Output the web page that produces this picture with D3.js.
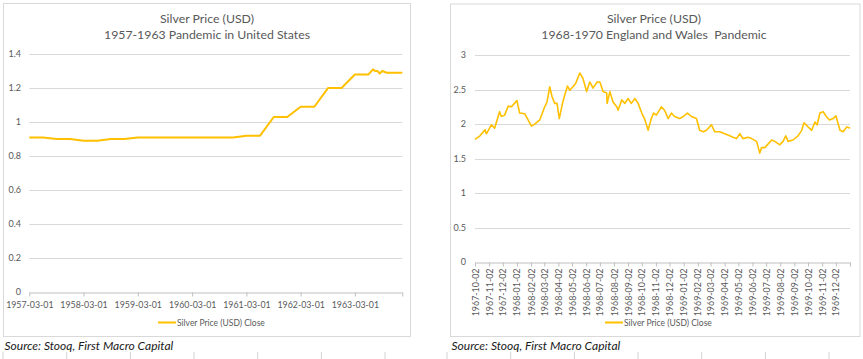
<!DOCTYPE html>
<html><head><meta charset="utf-8">
<script src="https://cdn.jsdelivr.net/npm/d3@7"></script>
<style>body{margin:0;background:#fff}svg text{white-space:pre}</style>
</head><body><svg id="c" width="863" height="359"></svg>
<script>
const seriesName = "Silver Price (USD) Close";
const sourceText = "Source: Stooq, First Macro Capital";
const leftTitle = ["Silver Price (USD)", "1957-1963 Pandemic in United States"];
const rightTitle = ["Silver Price (USD)", "1968-1970 England and Wales  Pandemic"];

const leftDates = ["1957-03-01","1957-06-01","1957-09-01","1957-12-01","1958-03-01","1958-06-01","1958-09-01","1958-12-01",
  "1959-03-01","1959-06-01","1959-09-01","1959-12-01","1960-03-01","1960-06-01","1960-09-01","1960-12-01",
  "1961-03-01","1961-06-01","1961-09-01","1961-12-01","1962-03-01","1962-06-01","1962-09-01","1962-12-01",
  "1963-03-01","1963-06-01","1963-07-01","1963-07-15","1963-08-01","1963-08-15","1963-09-01","1963-10-01","1963-11-01","1963-12-01","1964-01-14"];
const leftValues = [0.91,0.91,0.90,0.90,0.89,0.89,0.90,0.90,
  0.91,0.91,0.91,0.91,0.91,0.91,0.91,0.91,
  0.92,0.92,1.03,1.03,1.09,1.09,1.20,1.20,
  1.28,1.28,1.31,1.30,1.30,1.285,1.30,1.29,1.29,1.29,1.29];
const leftYTicks = [0,0.2,0.4,0.6,0.8,1,1.2,1.4];
const leftXTicks = ["1957-03-01","1958-03-01","1959-03-01","1960-03-01","1961-03-01","1962-03-01","1963-03-01"];
const leftXEnd = "1964-01-14";

const rightDates = ["1967-10-02","1967-10-13","1967-10-24","1967-10-27","1967-11-07","1967-11-14","1967-11-25","1967-11-29",
  "1967-12-06","1967-12-14","1967-12-21","1968-01-02","1968-01-08","1968-01-19","1968-02-03","1968-02-10","1968-02-21",
  "1968-03-03","1968-03-08","1968-03-14","1968-03-19","1968-03-25","1968-03-30","1968-04-04","1968-04-11","1968-04-16",
  "1968-04-22","1968-04-27","1968-05-04","1968-05-10","1968-05-19","1968-05-26","1968-06-03","1968-06-10","1968-06-17",
  "1968-06-26","1968-07-02","1968-07-09","1968-07-17","1968-07-18","1968-07-24","1968-07-31","1968-08-08","1968-08-11",
  "1968-08-19","1968-08-26","1968-09-02","1968-09-09","1968-09-17","1968-09-24","1968-10-02","1968-10-09","1968-10-16",
  "1968-10-20","1968-10-23","1968-10-28","1968-11-03","1968-11-14","1968-11-21","1968-11-29","1968-12-06","1968-12-13",
  "1968-12-24","1969-01-01","1969-01-10","1969-01-19","1969-01-30","1969-02-06","1969-02-14","1969-02-21","1969-03-04",
  "1969-03-11","1969-03-22","1969-04-02","1969-04-13","1969-04-20","1969-04-28","1969-05-05","1969-05-12","1969-05-23",
  "1969-05-31","1969-06-11","1969-06-18","1969-06-22","1969-06-29","1969-07-06","1969-07-14","1969-07-21","1969-08-01",
  "1969-08-08","1969-08-14","1969-08-19","1969-08-30","1969-09-10","1969-09-18","1969-09-23","1969-10-02","1969-10-10",
  "1969-10-17","1969-10-22","1969-10-28","1969-11-04","1969-11-11","1969-11-18","1969-11-26","1969-12-02","1969-12-11",
  "1969-12-18","1969-12-26","1970-01-02"];
const rightValues = [1.78,1.83,1.92,1.86,1.99,1.94,2.18,2.11,
  2.13,2.26,2.25,2.34,2.16,2.15,1.97,2.00,2.06,
  2.25,2.32,2.54,2.40,2.30,2.30,2.08,2.30,2.42,
  2.55,2.49,2.54,2.59,2.74,2.66,2.47,2.61,2.52,
  2.61,2.61,2.47,2.45,2.30,2.47,2.32,2.25,2.20,
  2.35,2.30,2.37,2.30,2.37,2.30,2.16,2.06,1.91,
  2.01,2.08,2.16,2.13,2.25,2.20,2.08,2.16,2.11,
  2.08,2.11,2.16,2.11,2.08,1.91,1.89,1.91,1.99,
  1.89,1.89,1.86,1.83,1.81,1.79,1.86,1.79,1.81,
  1.79,1.75,1.58,1.66,1.66,1.71,1.77,1.75,1.70,
  1.75,1.83,1.75,1.77,1.83,1.91,2.02,1.96,1.91,
  2.03,1.99,2.16,2.18,2.11,2.06,2.08,2.12,1.91,
  1.89,1.96,1.94];
const rightYTicks = [0,0.5,1,1.5,2,2.5,3];
const rightXTicks = ["1967-10-02","1967-11-02","1967-12-02","1968-01-02","1968-02-02","1968-03-02","1968-04-02","1968-05-02",
  "1968-06-02","1968-07-02","1968-08-02","1968-09-02","1968-10-02","1968-11-02","1968-12-02","1969-01-02","1969-02-02",
  "1969-03-02","1969-04-02","1969-05-02","1969-06-02","1969-07-02","1969-08-02","1969-09-02","1969-10-02","1969-11-02","1969-12-02"];
const rightXEnd = "1970-01-02";

const parse = d3.utcParse("%Y-%m-%d");
const svg = d3.select("#c");
const FONT = "Lato, 'Liberation Sans', sans-serif";
const GRAY = "#595959";
const LINE = "#FFC000";

function drawChart(o) {
  const g = svg.append("g");
  g.append("rect").attr("x", o.box[0]).attr("y", o.box[1]).attr("width", o.box[2]).attr("height", o.box[3])
    .attr("fill", "#fff").attr("stroke", "#d9d9d9").attr("stroke-width", 1);
  const x = d3.scaleUtc().domain([parse(o.xTicks[0]), parse(o.xEnd)]).range([o.x0, o.x1]);
  const y = d3.scaleLinear().domain([0, o.yMax]).range([o.y0, o.y1]);
  g.append("g").selectAll("line").data(o.yTicks.filter(v => v > 0)).join("line")
    .attr("x1", o.x0).attr("x2", o.x1).attr("y1", d => Math.round(y(d)) + 0.5).attr("y2", d => Math.round(y(d)) + 0.5)
    .attr("stroke", "#d9d9d9").attr("stroke-width", 1);
  g.append("g").selectAll("text").data(o.yTicks).join("text")
    .attr("x", o.yLabelX).attr("y", d => y(d) + 3).attr("text-anchor", "end")
    .attr("font-family", FONT).attr("font-size", 9).attr("fill", GRAY).text(d => d3.format("")(d));
  const tickVals = o.xTicks.map(parse).concat([parse(o.xEnd)]);
  const xAxis = d3.axisBottom(x).tickValues(tickVals).tickSize(4).tickSizeOuter(0)
    .tickFormat((d, i) => i < o.xTicks.length ? o.xTicks[i] : "");
  const ax = g.append("g").attr("transform", `translate(0,${Math.round(o.y0) + 0.5})`).call(xAxis);
  ax.select(".domain").attr("stroke", "#bfbfbf");
  ax.selectAll(".tick line").attr("stroke", "#bfbfbf");
  ax.selectAll(".tick text").attr("fill", GRAY).attr("font-family", FONT).attr("font-size", o.xFont);
  if (o.rotate) {
    ax.selectAll(".tick text").attr("transform", "rotate(-90)").attr("text-anchor", "end")
      .attr("x", -6).attr("y", 0).attr("dy", "0.34em");
  } else {
    ax.selectAll(".tick text").attr("y", 9);
  }
  const data = o.dates.map((d, i) => ({ d: parse(d), v: o.values[i] }));
  g.append("path").datum(data)
    .attr("d", d3.line().x(d => x(d.d)).y(d => y(d.v)))
    .attr("fill", "none").attr("stroke", LINE).attr("stroke-width", o.lw).attr("stroke-linejoin", "round");
  g.append("text").attr("x", o.titleX).attr("y", 23).attr("text-anchor", "middle")
    .attr("font-family", FONT).attr("font-size", 12.3).attr("fill", GRAY).text(o.title[0]);
  g.append("text").attr("x", o.titleX).attr("y", 39).attr("text-anchor", "middle")
    .attr("font-family", FONT).attr("font-size", 12.3).attr("fill", GRAY).text(o.title[1]);
  g.append("line").attr("x1", o.legX).attr("x2", o.legX + 18).attr("y1", 322.5).attr("y2", 322.5)
    .attr("stroke", LINE).attr("stroke-width", 2);
  g.append("text").attr("x", o.legX + 19).attr("y", 325.5).attr("font-family", FONT).attr("font-size", 8.5)
    .attr("fill", GRAY).text(seriesName);
  svg.append("text").attr("x", o.box[0] + 1).attr("y", 350).attr("font-family", FONT).attr("font-size", 12)
    .attr("font-style", "italic").attr("fill", "#1a1a1a").text(sourceText);
}

drawChart({ box: [3.5, 3.5, 407, 333], x0: 29.3, x1: 402.3, y0: 292.3, y1: 54, yMax: 1.4,
  dates: leftDates, values: leftValues, yTicks: leftYTicks, xTicks: leftXTicks, xEnd: leftXEnd,
  yLabelX: 21, titleX: 207, title: leftTitle, legX: 158, lw: 2, rotate: false, xFont: 8.8 });
drawChart({ box: [450.5, 4, 409.5, 332.5], x0: 475, x1: 850, y0: 262.3, y1: 55, yMax: 3,
  dates: rightDates, values: rightValues, yTicks: rightYTicks, xTicks: rightXTicks, xEnd: rightXEnd,
  yLabelX: 466, titleX: 654, title: rightTitle, legX: 605, lw: 1.6, rotate: true, xFont: 8.9 });

const cellEdges = [3, 66.7, 130.4, 194, 257.7, 321.4, 385, 447, 510.7, 574.4, 638, 701.7, 765.4, 829];
svg.append("g").selectAll("line").data(cellEdges).join("line")
  .attr("x1", d => d).attr("x2", d => d).attr("y1", 352).attr("y2", 359)
  .attr("stroke", "#d4d4d4").attr("stroke-width", 1);
</script></body></html>
